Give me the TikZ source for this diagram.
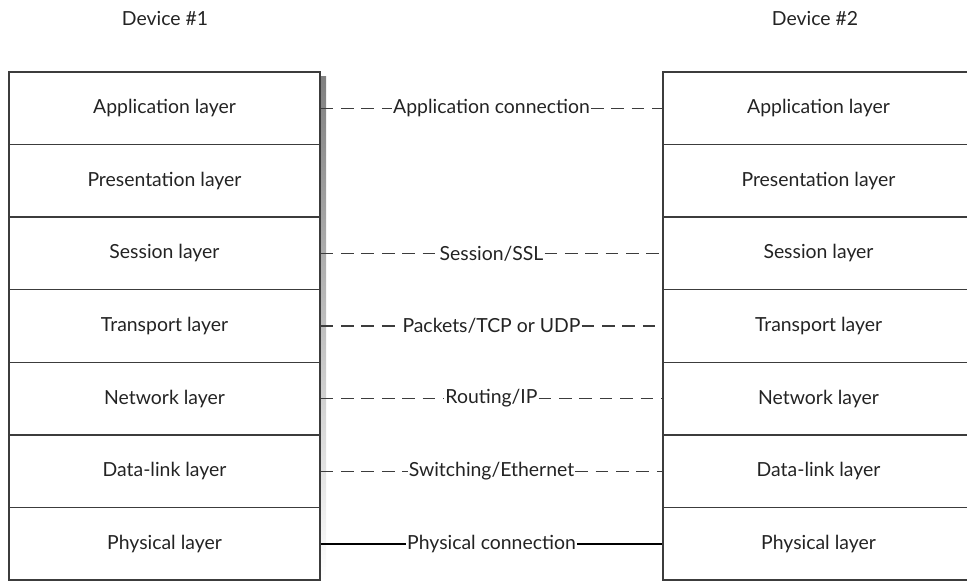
\documentclass[tikz,border=0pt]{standalone}
\usepackage{fontspec}
\setmainfont{Lato}
\usepackage{tikz}
\usetikzlibrary{positioning,calc}
\definecolor{ink}{RGB}{35,35,35}
\definecolor{boxline}{RGB}{60,60,60}
\definecolor{shade}{RGB}{222,222,222}
\tikzstyle{Layer}=[shape=rectangle,draw=boxline,line width=0.9pt,text=ink,minimum width=7.775cm,minimum height=1.814cm,inner sep=0pt,font=\fontsize{13.8}{16}\selectfont]
\tikzstyle{Link}=[shape=rectangle,text=ink,inner sep=0.6pt,font=\fontsize{13.8}{16}\selectfont]
\tikzstyle{logicaledge}=[draw=boxline,line width=0.85pt,dash pattern=on 9pt off 5.5pt]
\tikzstyle{wireedge}=[draw=black,line width=1.4pt]

\begin{document}
\begin{tikzpicture}[x=0.025cm,y=-0.025cm]
\useasboundingbox (0,0) rectangle (967,581);

 \node at (165,18) [Link] (D1) {Device \#1};
 \node at (815,18) [Link] (D2) {Device \#2};

% shadow along the right side of the first stack
\fill[shade] (321,76) rectangle (326,580);

% Device #1
\node[Layer] (A1) at (164.5,108.3){Application layer};
\node[Layer] (P1) at (164.5,180.9){Presentation layer};
\node[Layer] (S1) at (164.5,253.4){Session layer};
\node[Layer] (T1) at (164.5,326.0){Transport layer};
\node[Layer] (N1) at (164.5,398.6){Network layer};
\node[Layer] (L1) at (164.5,471.1){Data-link layer};
\node[Layer] (H1) at (164.5,543.7){Physical layer};

% Device #2
\node[Layer] (A2) at (818.5,108.3){Application layer};
\node[Layer] (P2) at (818.5,180.9){Presentation layer};
\node[Layer] (S2) at (818.5,253.4){Session layer};
\node[Layer] (T2) at (818.5,326.0){Transport layer};
\node[Layer] (N2) at (818.5,398.6){Network layer};
\node[Layer] (L2) at (818.5,471.1){Data-link layer};
\node[Layer] (H2) at (818.5,543.7){Physical layer};

% peer connections
\node[Link] (CA) at (491.5,108.3){Application connection};
\node[Link] (CS) at (491.5,253.4){Session/SSL};
\node[Link] (CT) at (491.5,326.0){Packets/TCP or UDP};
\node[Link] (CN) at (491.5,398.6){Routing/IP};
\node[Link] (CL) at (491.5,471.1){Switching/Ethernet};
\node[Link] (CH) at (491.5,543.7){Physical connection};

 \path 

(A1.east) edge [logicaledge] (CA.west)
(CA.east) edge [logicaledge] (A2.west)
(S1.east) edge [logicaledge] (CS.west)
(CS.east) edge [logicaledge] (S2.west)
(T1.east) edge [logicaledge] (CT.west)
(CT.east) edge [logicaledge] (T2.west)
(N1.east) edge [logicaledge] (CN.west)
(CN.east) edge [logicaledge] (N2.west)
(L1.east) edge [logicaledge] (CL.west)
(CL.east) edge [logicaledge] (L2.west)

(H1.east) edge [wireedge] (CH.west)
(CH.east) edge [wireedge] (H2.west);

\end{tikzpicture}
\end{document}
